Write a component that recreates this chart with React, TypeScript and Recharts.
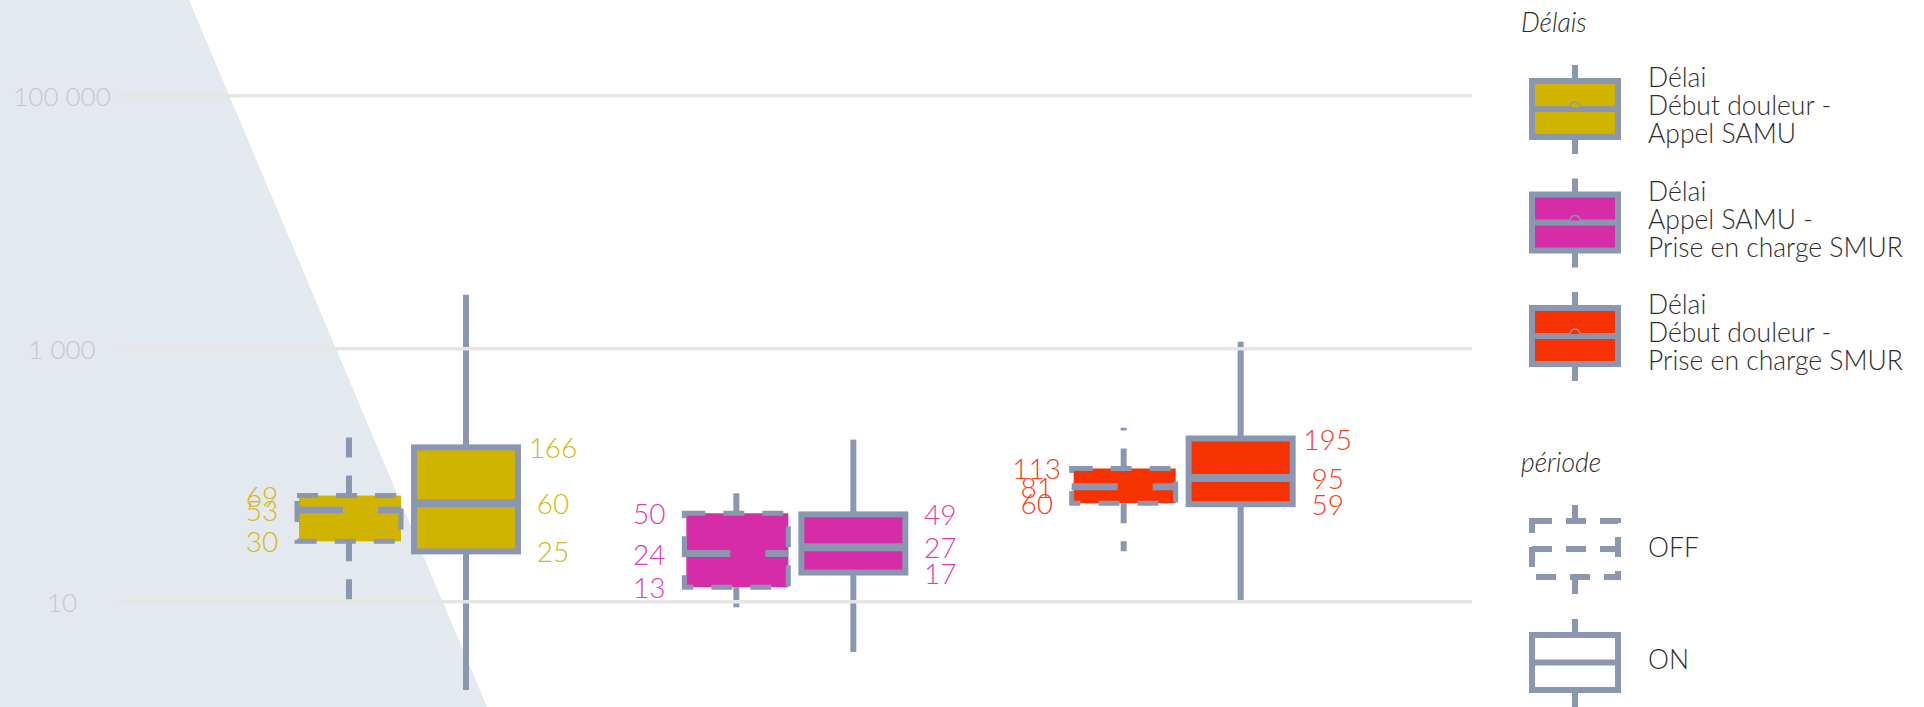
import React from 'react';
import { ComposedChart, Bar, XAxis, YAxis, ReferenceLine, Legend } from 'recharts';

const categories = ['Début douleur - Appel SAMU', 'Appel SAMU - Prise en charge SMUR', 'Début douleur - Prise en charge SMUR'];
const colors = ['#d0b400', '#d62ca8', '#f53200'];
const labelColors = ['#d4b80e', '#dc3cb2', '#f5401a'];

// [min, q1, median, q3, max] per category
const offStats = [
    [10, 30, 53, 69, 209],
    [8.5, 13, 24, 50, 74],
    [25, 60, 81, 113, 237],
];
const onStats = [
    [2, 25, 60, 166, 2670],
    [4, 17, 27, 49, 191],
    [10, 59, 95, 195, 1135],
];

const yTicks = [10, 1000, 100000];

const legendLines = [
    ['Délai', 'Début douleur -', 'Appel SAMU'],
    ['Délai', 'Appel SAMU -', 'Prise en charge SMUR'],
    ['Délai', 'Début douleur -', 'Prise en charge SMUR'],
];
const periods = ['OFF', 'ON'];

const STROKE = '#8b97b0';
const FONT = "Lato, 'Open Sans', sans-serif";

const data = categories.map((cat, i) => ({
    cat,
    color: colors[i],
    labelColor: labelColors[i],
    offStats: offStats[i],
    onStats: onStats[i],
    off: [offStats[i][0], offStats[i][4]],
    on: [onStats[i][0], onStats[i][4]],
}));

const fmt = (n: number) => String(n).replace(/\B(?=(\d{3})+(?!\d))/g, ' ');

const YTick = (props: any) => {
    const { y, payload } = props;
    return (
        <text x={62} y={y} textAnchor="middle" dominantBaseline="central" fill="#c6c6c6" fontSize={26} fontWeight={300} fontFamily={FONT}>
            {fmt(payload.value)}
        </text>
    );
};

// box drawn from the bar's [min, max] pixel extent, inner values placed on the same log scale
const makeBox = (period: 'off' | 'on') => (props: any) => {
    const { x, y, width, height, payload } = props;
    const st: number[] = period === 'off' ? payload.offStats : payload.onStats;
    const top = Math.min(y, y + height);
    const bottom = Math.max(y, y + height);
    const lmin = Math.log10(st[0]);
    const lmax = Math.log10(st[4]);
    const yOf = (v: number) => top + (bottom - top) * (lmax - Math.log10(v)) / (lmax - lmin);
    const cx = x + width / 2;
    const q1 = yOf(st[1]);
    const med = yOf(st[2]);
    const q3 = yOf(st[3]);
    const dashed = period === 'off';
    const labelX = dashed ? cx - 87 : cx + 87;
    const labelProps = {
        x: labelX,
        textAnchor: 'middle' as const,
        dominantBaseline: 'central' as const,
        fill: payload.labelColor,
        fontSize: 28,
        fontWeight: 300,
        fontFamily: FONT,
    };
    return (
        <g>
            <line x1={cx} x2={cx} y1={q3} y2={top} stroke={STROKE} strokeWidth={6} strokeDasharray={dashed ? '20 18' : undefined} />
            <line x1={cx} x2={cx} y1={q1} y2={bottom} stroke={STROKE} strokeWidth={6} strokeDasharray={dashed ? '20 18' : undefined} />
            {dashed ? (
                <>
                    <rect x={x + 2} y={q3} width={width - 2} height={q1 - q3} fill={payload.color} />
                    <rect x={x} y={q3} width={width} height={q1 - q3} fill="none" stroke={STROKE} strokeWidth={5} strokeDasharray="21 18" />
                    <line x1={x} x2={x + width} y1={med} y2={med} stroke={STROKE} strokeWidth={7} strokeDasharray="46 35" />
                </>
            ) : (
                <>
                    <rect x={x} y={q3} width={width} height={q1 - q3} fill={payload.color} stroke={STROKE} strokeWidth={6} />
                    <line x1={x} x2={x + width} y1={med} y2={med} stroke={STROKE} strokeWidth={8} />
                </>
            )}
            <text {...labelProps} y={q3}>{st[3]}</text>
            <text {...labelProps} y={med}>{st[2]}</text>
            <text {...labelProps} y={q1}>{st[1]}</text>
        </g>
    );
};

const LegendIcon = ({ cx, top, h, fill, dashed }: { cx: number; top: number; h: number; fill?: string; dashed?: boolean }) => {
    const w = 86;
    const mid = top + h / 2;
    const dash = dashed ? '20 14' : undefined;
    return (
        <g>
            <line x1={cx} x2={cx} y1={top - 16} y2={top} stroke={STROKE} strokeWidth={6} strokeDasharray={dash} />
            <line x1={cx} x2={cx} y1={top + h} y2={top + h + 17} stroke={STROKE} strokeWidth={6} strokeDasharray={dash} />
            <rect x={cx - w / 2} y={top} width={w} height={h} fill={fill || 'none'} stroke={STROKE} strokeWidth={6} strokeDasharray={dash} />
            <line x1={cx - w / 2} x2={cx + w / 2} y1={mid} y2={mid} stroke={STROKE} strokeWidth={6} strokeDasharray={dash} />
            {fill && <path d={`M ${cx - 5} ${mid - 2} A 5 5 0 0 1 ${cx + 5} ${mid - 2}`} fill={fill} stroke={STROKE} strokeWidth={1.5} />}
        </g>
    );
};

const LegendContent = () => {
    const txt = { fontFamily: FONT, fontSize: 26.5, fontWeight: 300, fill: '#2e2e2e' };
    return (
        <svg width={444} height={707}>
            <text x={41} y={32} {...txt} fontStyle="italic">Délais</text>
            {legendLines.map((lines, i) => {
                const top = 81 + 113.5 * i;
                return (
                    <g key={i}>
                        <LegendIcon cx={95} top={top} h={56} fill={colors[i]} />
                        {lines.map((l, j) => (
                            <text key={j} x={168} y={top + 6 + 28 * j} {...txt}>{l}</text>
                        ))}
                    </g>
                );
            })}
            <text x={41} y={472} {...txt} fontStyle="italic">période</text>
            <LegendIcon cx={95} top={521} h={56} dashed />
            <text x={168} y={557} {...txt}>{periods[0]}</text>
            <LegendIcon cx={95} top={635} h={55} />
            <text x={168} y={669} {...txt}>{periods[1]}</text>
        </svg>
    );
};

export default function App() {
    return (
        <div style={{ position: 'absolute', left: 0, top: 0, width: 1924, height: 707, overflow: 'hidden', background: '#fff' }}>
            <div
                style={{
                    position: 'absolute', left: 0, top: 0, width: 1924, height: 707,
                    background: '#e4e8ef', clipPath: 'polygon(0 0, 189px 0, 487px 707px, 0 707px)',
                }}
            />
            <div style={{ position: 'absolute', left: 0, top: 0 }}>
                <ComposedChart width={1924} height={707} data={data} margin={{ top: 0, right: 452, bottom: 0, left: 0 }} barSize={104} barGap={13}>
                    <XAxis dataKey="cat" hide padding={{ left: 95, right: 96 }} />
                    <YAxis
                        type="number"
                        scale="log"
                        domain={[1.471, 570900]}
                        ticks={yTicks}
                        width={119}
                        axisLine={false}
                        tickLine={false}
                        tick={<YTick />}
                        allowDataOverflow
                    />
                    {yTicks.map((t) => (
                        <ReferenceLine key={t} y={t} stroke="#e8e6e3" strokeWidth={3.5} />
                    ))}
                    <Bar dataKey="off" shape={makeBox('off')} isAnimationActive={false} />
                    <Bar dataKey="on" shape={makeBox('on')} isAnimationActive={false} />
                    <Legend
                        layout="horizontal"
                        verticalAlign="middle"
                        align="center"
                        content={<LegendContent />}
                        wrapperStyle={{ left: 1480, top: 0, width: 444, height: 707 }}
                    />
                </ComposedChart>
            </div>
        </div>
    );
}
